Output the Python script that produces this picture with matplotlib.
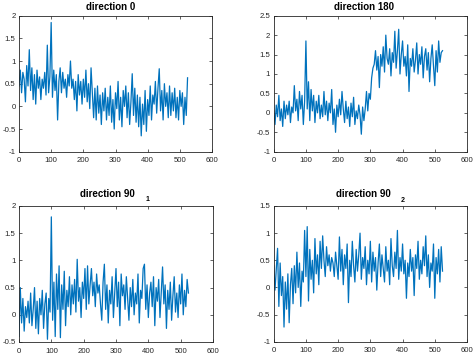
import matplotlib
matplotlib.use("Agg")
import matplotlib.pyplot as plt
import numpy as np

step = 4

dir0 = [0.45, 0.80, 0.30, 0.75, 0.60, 0.10, 0.90, 0.45, 1.25, 0.35,
        0.85, 0.15, 0.70, 0.05, 0.80, 0.40, 0.65, 0.15, 0.60, 0.40,
        0.75, 0.25, 1.35, 0.30, 0.65, 1.85, 0.20, 0.80, 0.35, 0.70,
        -0.30, 0.55, 0.85, 0.30, 0.75, 0.40, 0.60, 0.20, 0.70, 0.45,
        1.00, 0.40, 0.60, 0.15, 0.55, -0.10, 0.70, 0.25, 0.55, 0.05,
        0.60, 0.20, 0.80, 0.10, 0.50, -0.05, 0.85, 0.30, -0.25, 0.40,
        -0.30, 0.45, -0.15, 0.25, -0.40, 0.30, -0.10, 0.40, -0.30, 0.20,
        -0.20, 0.45, -0.35, 0.15, -0.50, 0.30, -0.05, 0.55, -0.30, 0.20,
        -0.45, 0.35, 0.00, 0.45, -0.25, 0.30, -0.40, 0.10, 0.72, -0.20,
        0.40, -0.35, 0.25, -0.45, 0.20, -0.65, 0.05, -0.40, 0.35, -0.55,
        0.15, -0.20, 0.45, -0.30, 0.25, 0.05, 0.55, -0.15, 0.40, 0.83,
        -0.10, 0.35, -0.30, 0.50, 0.00, 0.30, -0.25, 0.45, -0.20, 0.30,
        -0.10, 0.40, -0.25, 0.20, -0.30, 0.35, 0.00, 0.30, -0.40, 0.20,
        -0.20, 0.63]

dir180 = [0.05, -0.30, 0.20, -0.10, 0.45, -0.20, 0.10, -0.35, 0.30, -0.15,
          0.20, -0.05, 0.30, -0.25, 0.15, 0.00, 0.70, 0.05, 0.35, -0.20,
          0.55, 0.10, 0.45, -0.30, 0.30, 1.85, 0.10, 0.80, -0.20, 0.60,
          0.05, 0.45, -0.25, 0.30, 0.00, 0.45, -0.15, 0.20, -0.10, 0.55,
          -0.05, 0.30, -0.20, 0.25, 0.00, 0.60, -0.30, 0.10, -0.50, 0.20,
          -0.10, 0.35, -0.05, 0.55, 0.10, -0.25, 0.30, -0.15, 0.15, -0.35,
          0.25, -0.10, 0.40, -0.30, 0.05, -0.15, 0.20, -0.05, -0.55, 0.15,
          -0.20, 0.10, 0.55, 0.05, 0.50, 0.35, 0.90, 1.15, 1.25, 1.60,
          1.10, 1.45, 0.65, 1.50, 1.20, 1.70, 1.05, 2.00, 1.40, 1.25,
          1.65, 0.95, 1.55, 1.30, 2.10, 1.15, 1.60, 2.15, 1.00, 1.50,
          1.85, 1.20, 1.45, 0.95, 1.75, 0.55, 1.40, 1.20, 1.65, 1.05,
          1.35, 1.80, 1.00, 1.50, 1.25, 1.70, 0.90, 1.45, 1.65, 1.10,
          1.55, 0.80, 1.40, 1.75, 1.20, 0.70, 1.60, 1.05, 1.85, 1.30,
          1.55, 1.60]

dir90_1 = [-0.40, 0.50, -0.15, 0.30, -0.30, 0.15, -0.05, 0.25, -0.15, 0.40,
           -0.20, 0.10, 0.50, -0.25, 0.25, -0.35, 0.30, 0.00, 0.45, -0.25,
           0.20, 0.40, -0.45, 0.30, 0.05, 1.80, -0.10, 0.60, -0.40, 0.75,
           0.10, 0.90, -0.42, 0.55, 0.10, 0.80, -0.20, 0.45, 0.15, 0.70,
           0.00, 0.55, 0.20, 0.65, 0.05, 1.02, 0.25, 0.50, -0.05, 0.60,
           0.30, 0.85, 0.10, 0.90, 0.20, 0.55, 0.85, 0.35, 0.60, 0.15,
           0.75, 0.40, 0.55, 0.20, -0.10, 0.60, 0.93, 0.10, 0.55, -0.15,
           0.45, 0.20, 0.70, -0.05, 0.40, 0.85, 0.15, 0.60, -0.20, 0.75,
           0.35, 0.55, 0.10, 0.70, 0.30, -0.10, 0.50, 0.15, 0.65, 0.00,
           0.40, 0.20, 0.75, -0.15, 0.45, 0.30, 0.85, 0.93, 0.10, 0.55,
           -0.05, 0.40, 0.60, 0.15, 0.70, -0.20, 0.50, 0.25, 0.65, -0.05,
           0.40, 0.88, 0.20, 0.55, -0.25, 0.45, 0.10, 0.60, -0.10, 0.35,
           0.70, 0.05, 0.40, -0.05, 0.55, 0.20, 0.75, 0.00, 0.45, 0.15,
           0.65, 0.40]

dir90_2 = [0.40, -0.05, 0.35, 0.72, -0.35, 0.45, -0.15, 0.20, -0.73, 0.10,
           -0.40, 0.25, -0.65, 0.05, 0.35, -0.30, 0.40, -0.10, 0.65, 0.00,
           0.45, -0.35, 0.30, 0.10, 1.05, 0.20, 1.12, -0.25, 0.70, 0.15,
           0.50, -0.10, 0.90, 0.25, 0.60, 0.05, 0.85, 0.35, 0.95, 0.50,
           0.20, 0.75, 0.40, 0.60, 0.30, 0.55, 0.45, 0.20, 0.65, 0.40,
           0.15, 0.93, 0.30, 0.70, 0.05, 0.60, 0.35, 0.80, -0.28, 0.50,
           0.20, 0.85, 0.40, 0.10, 0.70, 0.30, 0.60, 1.00, 0.15, 0.55,
           0.35, 0.75, 0.05, 0.50, 0.25, 0.85, 0.10, 0.65, 0.30, 0.55,
           -0.05, 0.45, 0.80, 0.20, 0.60, 0.35, 0.10, 0.75, 0.30, 0.50,
           0.05, 0.90, 0.40, 0.20, 0.65, 0.35, 1.05, 0.15, 0.55, 0.30,
           0.80, 0.25, 0.50, -0.20, 0.45, 0.20, 0.70, 0.30, 0.55, -0.15,
           0.60, 0.35, 0.85, 0.15, 0.50, 0.25, 0.75, 0.40, 0.95, 0.20,
           0.60, 0.00, 0.45, 0.30, 0.80, -0.20, 0.55, 0.25, 0.70, 0.10,
           0.75, 0.30]

panels = [
    # data, title, subscript, ylim, yticks, axes rect in px (left, top, right, bottom), title center px, sub px
    (dir0, "direction 0", None, (-1, 2), np.arange(-1, 2.01, 0.5),
     (19, 15.7, 212, 151.7), (110.5, 7.5), None),
    (dir180, "direction 180", None, (-1, 2.5), np.arange(-1, 2.51, 0.5),
     (273.7, 15.7, 467, 151.7), (363.5, 7.5), None),
    (dir90_1, "direction 90", "1", (-0.5, 2), np.arange(-0.5, 2.01, 0.5),
     (19, 206, 213, 342), (107.5, 194), (148, 199.5)),
    (dir90_2, "direction 90", "2", (-1, 1.5), np.arange(-1, 1.51, 0.5),
     (273.7, 206, 467, 341.7), (363, 194), (402.7, 200)),
]

W, H = 473, 357
plt.rcParams['font.family'] = ['Liberation Sans', 'DejaVu Sans']
fig = plt.figure(figsize=(W / 100, H / 100), dpi=100)

axcol = '#262626'

def fmt(v):
    s = "%g" % round(v, 2)
    return s

for data, title, sub, ylim, yticks, rect, tpos, spos in panels:
    l, t, r, b = rect
    ax = fig.add_axes([l / W, 1 - b / H, (r - l) / W, (b - t) / H])
    x = np.arange(len(data)) * step
    ax.plot(x, data, color='#0072BD', linewidth=0.9)
    ax.set_xlim(0, 600)
    ax.set_ylim(*ylim)
    ax.set_xticks(np.arange(0, 601, 100))
    ax.set_yticks(yticks)
    ax.set_yticklabels([fmt(v) for v in yticks])
    ax.tick_params(direction='in', length=2.5, width=0.5, labelsize=5.6,
                   colors=axcol, top=True, right=True)
    ax.tick_params(axis='x', pad=4)
    ax.tick_params(axis='y', pad=2.5)
    for sp in ax.spines.values():
        sp.set_linewidth(0.6)
        sp.set_color(axcol)
    fig.text(tpos[0] / W, 1 - tpos[1] / H, title, ha='center', va='center',
             fontsize=7, fontweight='bold', color='black')
    if sub:
        fig.text(spos[0] / W, 1 - spos[1] / H, sub, ha='center', va='center',
                 fontsize=5, fontweight='bold', color='black')

fig.savefig("out.png", dpi=100)
